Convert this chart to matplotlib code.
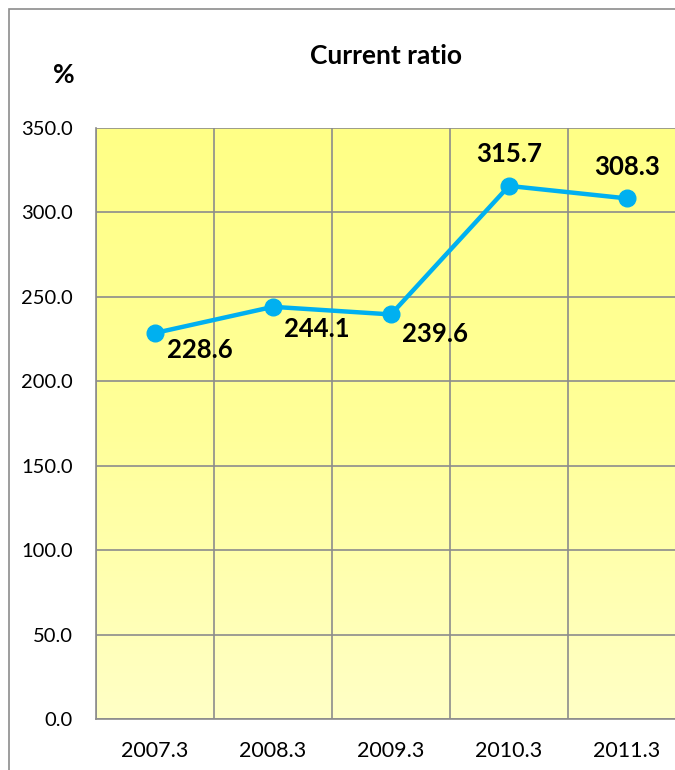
import numpy as np
import matplotlib.pyplot as plt
from matplotlib.patches import Rectangle
from matplotlib.colors import LinearSegmentedColormap

periods = ['2007.3', '2008.3', '2009.3', '2010.3', '2011.3']
current_ratio = [228.6, 244.1, 239.6, 315.7, 308.3]
label_offsets = [(9, -12), (8, -16), (8, -14), (0, 14), (0, 14)]
label_align = [('left', 'center'), ('left', 'center'), ('left', 'center'),
               ('center', 'bottom'), ('center', 'bottom')]

plt.rcParams['font.family'] = ['Lato', 'DejaVu Sans']

fig = plt.figure(figsize=(6.75, 7.7), dpi=100)
fig.patches.append(Rectangle((9 / 675, -0.1), 1.2, 1 - 9 / 770 + 0.1,
                             transform=fig.transFigure, fill=False,
                             edgecolor='#8c8c8c', linewidth=1.2))

ax = fig.add_axes([96 / 675, 51 / 770, 590 / 675, 591 / 770])
x = np.arange(len(periods))
ax.set_xlim(-0.5, len(periods) - 0.5)
ax.set_ylim(0, 350)

# yellow gradient background
cmap = LinearSegmentedColormap.from_list(
    'bg', [(0, '#ffffc6'), (0.5, '#ffff98'), (1, '#ffff86')])
grad = np.linspace(0, 1, 256).reshape(-1, 1)
ax.imshow(grad, cmap=cmap, origin='lower', aspect='auto',
          extent=(-0.5, len(periods) - 0.5, 0, 350), zorder=0)

ax.set_yticks(np.arange(0, 351, 50))
ax.set_yticklabels([f'{v:.1f}' for v in np.arange(0, 351, 50)], fontsize=14.5)
ax.set_xticks(x)
ax.set_xticklabels(periods, fontsize=15.5)
ax.set_xticks(np.arange(-0.5, len(periods), 1), minor=True)
ax.tick_params(which='both', length=0)
ax.tick_params(axis='x', pad=16)
ax.tick_params(axis='y', pad=16.5)
ax.grid(True, which='minor', axis='x', color='#8c8c8c', linewidth=1.2)
ax.grid(True, which='major', axis='y', color='#8c8c8c', linewidth=1.2)
ax.set_axisbelow(False)
for side in ['top', 'right']:
    ax.spines[side].set_visible(False)
for side in ['left', 'bottom']:
    ax.spines[side].set_color('#8c8c8c')
    ax.spines[side].set_linewidth(1.2)

ax.plot(x, current_ratio, color='#00b0f0', linewidth=3.2, marker='o',
        markersize=12, zorder=5)

for xi, v, off, (ha, va) in zip(x, current_ratio, label_offsets, label_align):
    ax.annotate(f'{v:.1f}', (xi, v), xytext=off, textcoords='offset points',
                ha=ha, va=va, fontsize=18.5, fontweight='bold', zorder=6)

fig.text(386 / 675, 1 - 56 / 770, 'Current ratio', ha='center', va='center',
         fontsize=19, fontweight='bold')
fig.text(64 / 675, 1 - 75 / 770, '%', ha='center', va='center',
         fontsize=19, fontweight='bold')

fig.savefig('out.png', dpi=100)
